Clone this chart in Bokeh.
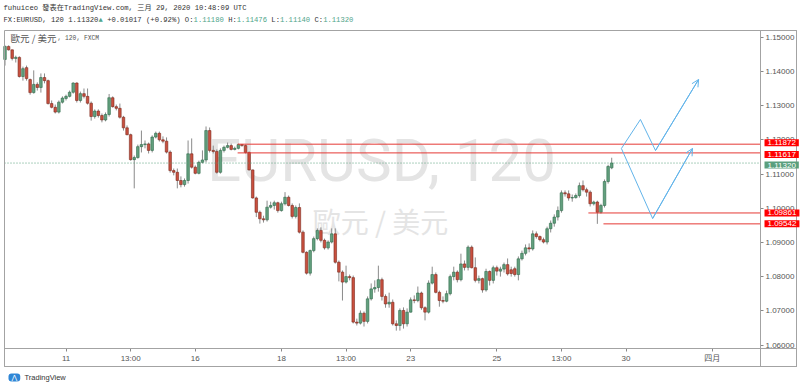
from bokeh.plotting import figure
from bokeh.models import (Range1d, ColumnDataSource, Label, BoxAnnotation,
                          Arrow, OpenHead, FixedTicker, PrintfTickFormatter, LinearAxis)
from bokeh.embed import file_html
from bokeh.resources import INLINE

# ---------------- data (EURUSD, 120 min bars, FXCM) ----------------
opens = [1.1435,1.1473,1.1463,1.1438,1.1441,1.1385,1.1411,1.1376,1.1338,1.1362,
         1.1353,1.1382,1.1373,1.1306,1.1295,1.1281,1.1310,1.1321,1.1327,1.1339,
         1.1366,1.1315,1.1335,1.1327,1.1307,1.1268,1.1284,1.1271,1.1258,1.1274,
         1.1323,1.1297,1.1292,1.1266,1.1235,1.1215,1.1142,1.1148,1.1180,1.1186,
         1.1188,1.1169,1.1208,1.1219,1.1200,1.1196,1.1164,1.1110,1.1105,1.1081,
         1.1069,1.1081,1.1159,1.1120,1.1102,1.1134,1.1141,1.1227,1.1169,1.1166,
         1.1105,1.1169,1.1178,1.1183,1.1172,1.1175,1.1186,1.1183,1.1163,1.1112,
         1.1030,1.0988,1.0969,1.0966,1.1003,1.1008,1.1016,1.0993,1.1013,1.1032,
         1.1008,1.0976,1.1002,1.0930,1.0871,1.0810,1.0876,1.0911,1.0935,1.0906,
         1.0884,1.0901,1.0925,1.0842,1.0813,1.0784,1.0800,1.0797,1.0667,1.0664,
         1.0693,1.0669,1.0735,1.0764,1.0768,1.0791,1.0742,1.0720,1.0725,1.0662,
         1.0657,1.0701,1.0662,1.0696,1.0732,1.0730,1.0752,1.0709,1.0696,1.0781,
         1.0806,1.0754,1.0730,1.0728,1.0750,1.0800,1.0813,1.0791,1.0837,1.0827,
         1.0886,1.0826,1.0789,1.0794,1.0761,1.0815,1.0789,1.0826,1.0816,1.0822,
         1.0835,1.0820,1.0823,1.0806,1.0852,1.0868,1.0884,1.0881,1.0925,1.0917,
         1.0908,1.0901,1.0940,1.0956,1.0974,1.0993,1.1045,1.1042,1.1030,1.1031,
         1.1037,1.1066,1.1054,1.1047,1.1013,1.1018,1.0988,1.1008,1.1078,1.1118]
highs = [1.1476,1.1476,1.1464,1.1446,1.1444,1.1414,1.1417,1.1379,1.1403,1.1368,
         1.1394,1.1394,1.1376,1.1315,1.1303,1.1315,1.1327,1.1332,1.1344,1.1368,
         1.1368,1.1341,1.1350,1.1350,1.1312,1.1289,1.1289,1.1277,1.1280,1.1334,
         1.1327,1.1303,1.1306,1.1270,1.1242,1.1218,1.1154,1.1186,1.1227,1.1198,
         1.1192,1.1213,1.1224,1.1224,1.1210,1.1207,1.1169,1.1116,1.1116,1.1093,
         1.1087,1.1198,1.1204,1.1125,1.1139,1.1169,1.1239,1.1236,1.1183,1.1172,
         1.1175,1.1183,1.1192,1.1189,1.1180,1.1189,1.1187,1.1186,1.1166,1.1113,
         1.1034,1.0993,1.0978,1.1022,1.1019,1.1022,1.1019,1.1019,1.1047,1.1037,
         1.1014,1.1008,1.1014,1.0935,1.0874,1.0879,1.0917,1.0941,1.0944,1.0911,
         1.0906,1.0941,1.0941,1.0847,1.0818,1.0832,1.0806,1.0803,1.0677,1.0701,
         1.0698,1.0742,1.0780,1.0789,1.0832,1.0797,1.0748,1.0753,1.0733,1.0672,
         1.0707,1.0710,1.0707,1.0739,1.0745,1.0771,1.0756,1.0713,1.0789,1.0829,
         1.0812,1.0759,1.0742,1.0759,1.0806,1.0829,1.0818,1.0867,1.0847,1.0891,
         1.0891,1.0856,1.0803,1.0797,1.0823,1.0818,1.0832,1.0832,1.0829,1.0841,
         1.0853,1.0829,1.0829,1.0859,1.0876,1.0894,1.0897,1.0935,1.0932,1.0920,
         1.0914,1.0946,1.0964,1.0982,1.1005,1.1052,1.1052,1.1052,1.1040,1.1043,
         1.1075,1.1081,1.1060,1.1052,1.1022,1.1022,1.1013,1.1084,1.1127,1.11476]
lows = [1.1417,1.1461,1.1432,1.1426,1.1382,1.1373,1.1373,1.1332,1.1335,1.1344,
        1.1338,1.1365,1.1303,1.1292,1.1277,1.1277,1.1306,1.1315,1.1324,1.1335,
        1.1309,1.1309,1.1321,1.1303,1.1256,1.1262,1.1265,1.1251,1.1254,1.1268,
        1.1294,1.1286,1.1262,1.1227,1.1213,1.1139,1.1058,1.1145,1.1163,1.1175,
        1.1160,1.1163,1.1204,1.1195,1.1190,1.1160,1.1104,1.1096,1.1058,1.1061,
        1.1063,1.1072,1.1116,1.1099,1.1099,1.1131,1.1134,1.1163,1.1160,1.1101,
        1.1101,1.1163,1.1175,1.1169,1.1169,1.1172,1.1180,1.1160,1.1110,1.1028,
        1.0974,1.0955,1.0958,1.0961,1.0999,1.0996,1.0987,1.0990,1.1008,1.1005,
        1.0970,1.0970,1.0926,1.0868,1.0806,1.0803,1.0871,1.0906,1.0900,1.0879,
        1.0879,1.0897,1.0838,1.0786,1.0730,1.0780,1.0789,1.0663,1.0657,1.0660,
        1.0654,1.0663,1.0730,1.0753,1.0756,1.0730,1.0709,1.0709,1.0657,1.0642,
        1.0642,1.0648,1.0654,1.0695,1.0722,1.0725,1.0703,1.0672,1.0692,1.0777,
        1.0751,1.0712,1.0722,1.0725,1.0745,1.0789,1.0783,1.0786,1.0818,1.0818,
        1.0824,1.0783,1.0780,1.0753,1.0756,1.0774,1.0780,1.0803,1.0800,1.0812,
        1.0803,1.0800,1.0800,1.0789,1.0847,1.0862,1.0871,1.0876,1.0911,1.0903,
        1.0897,1.0894,1.0929,1.0946,1.0964,1.0987,1.1034,1.1022,1.1019,1.1028,
        1.1031,1.1049,1.1034,1.1005,1.1008,1.09542,1.0984,1.1002,1.1072,1.1114]
closes = [1.1473,1.1463,1.1438,1.1441,1.1385,1.1408,1.1379,1.1338,1.1362,1.1353,
          1.1382,1.1373,1.1306,1.1295,1.1281,1.1310,1.1322,1.1327,1.1339,1.1366,
          1.1315,1.1335,1.1327,1.1307,1.1268,1.1284,1.1271,1.1258,1.1274,1.1323,
          1.1297,1.1292,1.1266,1.1235,1.1215,1.1142,1.1148,1.1180,1.1186,1.1188,
          1.1169,1.1208,1.1219,1.1200,1.1196,1.1164,1.1110,1.1105,1.1081,1.1069,
          1.1081,1.1159,1.1120,1.1102,1.1134,1.1141,1.1227,1.1169,1.1166,1.1105,
          1.1169,1.1178,1.1183,1.1172,1.1175,1.1186,1.1183,1.1163,1.1112,1.1030,
          1.0988,1.0969,1.0966,1.1003,1.1008,1.1016,1.0993,1.1013,1.1032,1.1008,
          1.0976,1.1002,1.0930,1.0871,1.0810,1.0876,1.0911,1.0935,1.0906,1.0884,
          1.0901,1.0925,1.0842,1.0813,1.0784,1.0800,1.0797,1.0667,1.0664,1.0693,
          1.0669,1.0735,1.0764,1.0768,1.0791,1.0742,1.0720,1.0725,1.0662,1.0657,
          1.0701,1.0662,1.0696,1.0732,1.0730,1.0752,1.0709,1.0696,1.0781,1.0806,
          1.0754,1.0730,1.0728,1.0750,1.0800,1.0813,1.0791,1.0837,1.0827,1.0886,
          1.0826,1.0789,1.0794,1.0761,1.0815,1.0789,1.0826,1.0816,1.0822,1.0835,
          1.0808,1.0809,1.0806,1.0852,1.0868,1.0884,1.0881,1.0925,1.0917,1.0908,
          1.0901,1.0940,1.0956,1.0974,1.0993,1.1045,1.1042,1.1030,1.1031,1.1037,
          1.1066,1.1054,1.1047,1.1013,1.1018,1.0988,1.1008,1.1078,1.1122,1.1132]

time_tick_idx = [17, 35, 53, 77, 95, 113, 137, 155, 173, 197]
time_tick_labels = ["11", "13:00", "16", "18", "13:00", "23", "25", "13:00", "30", "四月"]
price_ticks = [1.06, 1.07, 1.08, 1.09, 1.10, 1.11, 1.12, 1.13, 1.14, 1.15]

ray_prices = [1.11872, 1.11617, 1.09861, 1.09542]
ray_start_idx = [64.8, 64.8, 162.5, 166.7]
last_price = 1.11320

path_a_x = [171.7, 177.0, 181.2, 193.2]
path_a_y = [1.11746, 1.12594, 1.11687, 1.13763]
path_b_x = [171.7, 180.4, 191.5]
path_b_y = [1.11746, 1.09699, 1.11746]

header_1 = "fuhuiceo 發表在TradingView.com, 三月 29, 2020 10:48:09 UTC"
header_2 = [("FX:EURUSD, 120 1.11320", "dark"), ("▲", "up"), (" +0.01017 (+0.92%) O:", "dark"),
            ("1.11180", "up"), (" H:", "dark"), ("1.11476", "up"), (" L:", "dark"),
            ("1.11140", "up"), (" C:", "dark"), ("1.11320", "up")]

# ---------------- styling ----------------
UP_FILL, UP_EDGE = "#63a07e", "#2e6a4a"
DN_FILL, DN_EDGE = "#c9503f", "#7a2a1f"
WICK = "#8a8a8a"
FRAME = "#a3a3a3"
TEAL = "#5a9f7d"
BLUE = "#62b4ea"
RAY = "#e53935"

W, H = 800, 388
# the whole canvas is the data frame; page px <-> data through these ranges
PX_PER_BAR = 3.59
X0_PX = 4.5            # pixel of bar 0
Y_REF_PX = 36.7        # pixel of 1.15000
PX_PER_PRICE = 3420.0

x_start = -X0_PX / PX_PER_BAR
x_end = (W - X0_PX) / PX_PER_BAR
y_top = 1.15 + Y_REF_PX / PX_PER_PRICE
y_bot = 1.15 - (H - Y_REF_PX) / PX_PER_PRICE

def xd(px):   # page x -> data x
    return (px - X0_PX) / PX_PER_BAR

def yd(py):   # page y -> data y
    return 1.15 - (py - Y_REF_PX) / PX_PER_PRICE

def sy(py):   # page y -> screen units (from frame bottom)
    return H - py

pane_left, pane_right, pane_top, pane_bottom = 4, 760, 30, 348
box_right, box_bottom = 796, 366

n = len(closes)
xs = list(range(n))
up = [c >= o for o, c in zip(opens, closes)]
src = ColumnDataSource(dict(
    x=xs, high=highs, low=lows,
    top=[max(o, c) for o, c in zip(opens, closes)],
    bottom=[min(o, c) for o, c in zip(opens, closes)],
    fill=[UP_FILL if u else DN_FILL for u in up],
    edge=[UP_EDGE if u else DN_EDGE for u in up],
))

p = figure(width=W, height=H, output_backend="svg", toolbar_location=None, title=None,
           x_range=Range1d(x_start, x_end), y_range=Range1d(y_bot, y_top),
           x_axis_location=None, y_axis_location=None,
           min_border=0, min_border_left=0, min_border_right=0,
           min_border_top=0, min_border_bottom=0)
p.outline_line_color = None
p.background_fill_color = "white"
p.border_fill_color = "white"
p.grid.grid_line_color = None

# axes placed at the pane edges
xax = LinearAxis(fixed_location=yd(pane_bottom), ticker=FixedTicker(ticks=time_tick_idx),
                 major_label_overrides={t: s for t, s in zip(time_tick_idx, time_tick_labels)})
yax = LinearAxis(fixed_location=xd(pane_right), ticker=FixedTicker(ticks=price_ticks),
                 formatter=PrintfTickFormatter(format="%.5f"))
for ax in (xax, yax):
    ax.axis_line_color = None
    ax.major_tick_line_color = "#888888"
    ax.minor_tick_line_color = None
    ax.major_tick_in = 0
    ax.major_tick_out = 3
    ax.major_label_text_font_size = "8px"
    ax.major_label_text_color = "#555555"
    ax.major_label_text_font = "Liberation Sans, Noto Sans CJK TC"
    ax.major_label_standoff = 2
p.add_layout(xax, "below")
p.add_layout(yax, "right")

# watermark
p.add_layout(Label(x=381, y=sy(160), x_units="screen", y_units="screen", text="EURUSD, 120",
                   text_align="center", text_baseline="middle", text_font_size="60px",
                   text_font="Roboto", text_color="#e4e4e4", level="underlay"))
p.add_layout(Label(x=380, y=sy(220), x_units="screen", y_units="screen", text="歐元 / 美元",
                   text_align="center", text_baseline="middle", text_font_size="28px",
                   text_font="Noto Sans CJK TC", text_color="#e4e4e4", level="underlay"))

# candles
p.segment(x0="x", y0="low", x1="x", y1="high", source=src, line_color=WICK, line_width=1)
p.vbar(x="x", width=0.72, top="top", bottom="bottom", source=src,
       fill_color="fill", line_color="edge", line_width=0.6)

# horizontal rays
p.segment(x0=ray_start_idx, y0=ray_prices, x1=[xd(pane_right)] * len(ray_prices), y1=ray_prices,
          line_color=RAY, line_width=1)

# last price dotted line
p.segment(x0=[xd(pane_left)], y0=[last_price], x1=[xd(pane_right)], y1=[last_price],
          line_color=TEAL, line_dash="1 2", line_width=1)

# projection arrows
p.line(path_a_x, path_a_y, line_color=BLUE, line_width=1)
p.line(path_b_x, path_b_y, line_color=BLUE, line_width=1)
for px_, py_ in ((path_a_x, path_a_y), (path_b_x, path_b_y)):
    p.add_layout(Arrow(end=OpenHead(size=7, line_color=BLUE, line_width=1),
                       x_start=px_[-2], y_start=py_[-2], x_end=px_[-1], y_end=py_[-1],
                       line_color=BLUE, line_width=1))

# chart box lines
for l, r, t, b in ((pane_left, box_right, pane_top, box_bottom),
                   (pane_right, box_right, pane_top, box_bottom),
                   (pane_left, box_right, pane_bottom, box_bottom)):
    p.add_layout(BoxAnnotation(left=l, right=r, top=sy(t), bottom=sy(b),
                               left_units="screen", right_units="screen",
                               top_units="screen", bottom_units="screen",
                               fill_color=None, fill_alpha=0, line_color=FRAME,
                               line_alpha=1, line_width=1))

# price tags on the scale (nudged apart like the platform does)
tag_nudge = [1.5, -1.5, 0, 0]
for pr, dy in zip(ray_prices, tag_nudge):
    p.add_layout(Label(x=764, y=pr, y_offset=dy, x_units="screen", y_units="data",
                       text="%.5f" % pr,
                       text_baseline="middle", text_font_size="8px", text_color="white",
                       text_font="Liberation Sans", background_fill_color="#ff0000",
                       padding=dict(left=3, right=3, top=1, bottom=1)))
p.add_layout(Label(x=764, y=last_price, y_offset=-2, x_units="screen", y_units="data",
                   text="%.5f" % last_price, text_baseline="middle", text_font_size="8px",
                   text_color="white", text_font="Liberation Sans", background_fill_color=TEAL,
                   padding=dict(left=3, right=3, top=1, bottom=1)))

# header texts (monospace, laid out by character columns)
FS = 7.2
CW = 0.6 * FS
p.add_layout(Label(x=3, y=sy(7), x_units="screen", y_units="screen", text=header_1,
                   text_baseline="middle", text_font_size="%.1fpx" % FS,
                   text_font="Liberation Mono, Noto Sans CJK TC", text_color="#333333"))
col = 0
for txt, kind in header_2:
    lead = len(txt) - len(txt.lstrip(" "))
    p.add_layout(Label(x=3 + (col + lead) * CW, y=sy(19), x_units="screen", y_units="screen",
                       text=txt.strip(" "), text_baseline="middle", text_font_size="%.1fpx" % FS,
                       text_font="Liberation Mono, DejaVu Sans Mono",
                       text_color="#333333" if kind == "dark" else "#4fa58a"))
    col += len(txt)

# symbol legend in pane
p.add_layout(Label(x=10, y=sy(37.5), x_units="screen", y_units="screen", text="歐元 / 美元",
                   text_baseline="middle", text_font_size="9.5px",
                   text_font="Noto Sans CJK TC", text_color="#555555"))
p.add_layout(Label(x=57, y=sy(37.5), x_units="screen", y_units="screen", text=", 120, FXCM",
                   text_baseline="middle", text_font_size="6.3px",
                   text_font="Liberation Mono", text_color="#555555"))

# TradingView logo
p.add_layout(Label(x=8, y=sy(377), x_units="screen", y_units="screen", text="⋀",
                   text_baseline="middle", text_font_size="7px", text_font="DejaVu Sans",
                   text_color="white", background_fill_color="#2f86d6", border_radius=3,
                   padding=dict(left=3, right=3, top=0, bottom=0)))
p.add_layout(Label(x=24, y=sy(377), x_units="screen", y_units="screen", text="TradingView",
                   text_baseline="middle", text_font_size="7.5px", text_font="Liberation Sans",
                   text_color="#333333"))

open("out.html", "w").write(file_html(p, INLINE))
